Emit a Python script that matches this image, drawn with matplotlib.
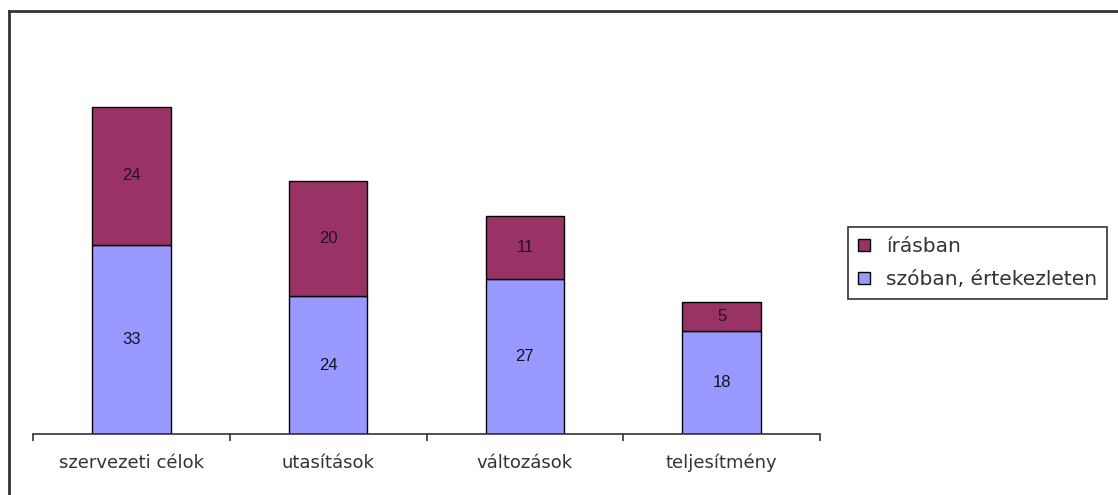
import numpy as np
import matplotlib.pyplot as plt
from matplotlib.lines import Line2D

plt.rcParams["font.family"] = ["Liberation Sans", "DejaVu Sans"]

categories = ["szervezeti célok", "utasítások", "változások", "teljesítmény"]
szoban = [33, 24, 27, 18]
irasban = [24, 20, 11, 5]

MAROON = "#993366"
LILAC = "#9999FF"

fig = plt.figure(figsize=(11.18, 4.95), dpi=100)
ax = fig.add_axes([0.0295, 0.123, 0.704, 0.812])

x = np.arange(len(categories))
w = 0.40
b1 = ax.bar(x, szoban, w, color=LILAC, edgecolor="black", linewidth=1.0,
            label="szóban, értekezleten")
b2 = ax.bar(x, irasban, w, bottom=szoban, color=MAROON, edgecolor="black",
            linewidth=1.0, label="írásban")

for i in range(len(categories)):
    ax.text(x[i], szoban[i] / 2, str(szoban[i]), ha="center", va="center",
            fontsize=12, color="#111122")
    ax.text(x[i], szoban[i] + irasban[i] / 2, str(irasban[i]), ha="center",
            va="center", fontsize=12, color="#221122")

ax.set_xlim(-0.5, len(categories) - 0.5)
ax.set_ylim(0, 70)
for s in ("top", "right", "left"):
    ax.spines[s].set_visible(False)
ax.spines["bottom"].set_color("#333333")
ax.spines["bottom"].set_linewidth(1.2)
ax.set_yticks([])
ax.set_xticks(np.arange(-0.5, len(categories)), minor=False)
ax.set_xticklabels([])
ax.tick_params(axis="x", length=5, width=1.2, color="#333333", direction="out")
ax.set_xticks(x, minor=True)
ax.set_xticklabels(categories, minor=True, fontsize=13, color="#333333",
                   family="DejaVu Sans")
ax.tick_params(axis="x", which="minor", length=0, pad=14)

# outer chart frame (left and top visible)
fig.add_artist(Line2D([9 / 1118, 9 / 1118], [0, 1 - 11 / 495],
                      transform=fig.transFigure, color="#333333", lw=2))
fig.add_artist(Line2D([9 / 1118, 1], [1 - 11 / 495, 1 - 11 / 495],
                      transform=fig.transFigure, color="#333333", lw=2))

handles = [b2, b1]
leg = fig.legend(handles, [h.get_label() for h in handles],
                 loc="upper left", bbox_to_anchor=(848 / 1118, 1 - 227 / 495),
                 frameon=True, fancybox=False,
                 prop={"family": "DejaVu Sans", "size": 14.5},
                 handlelength=0.6, handleheight=0.6, handletextpad=0.8,
                 borderpad=0.5, labelspacing=0.7, borderaxespad=0)
leg.get_frame().set_edgecolor("black")
leg.get_frame().set_linewidth(1.2)
for t in leg.get_texts():
    t.set_color("#333333")

fig.savefig("out.png", dpi=100)
